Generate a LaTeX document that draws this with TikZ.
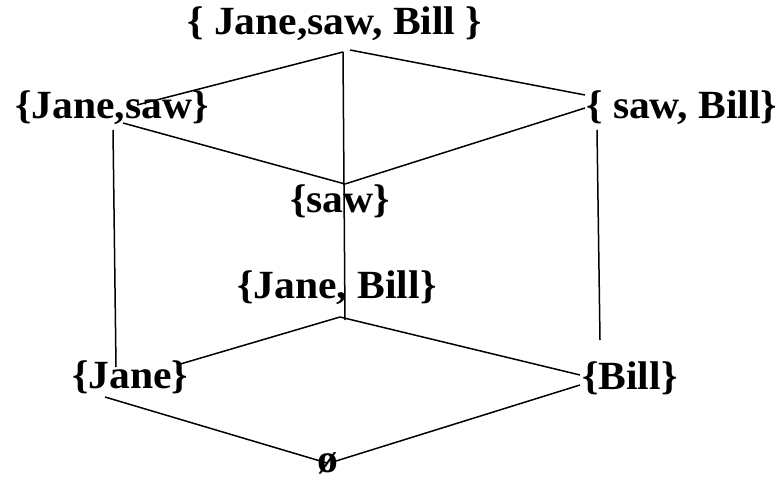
\documentclass[tikz,border=0pt]{standalone}
\usepackage{fontspec}
\setmainfont{Liberation Serif}
\begin{document}
\begin{tikzpicture}[x=1pt,y=-1pt,
  lbl/.style={anchor=base west,inner sep=0pt,font=\fontsize{40}{42}\selectfont\bfseries,xscale=1.04,transform shape},
  edge/.style={line width=1.5pt,black}]
\useasboundingbox (0,0) rectangle (778,481);
% labels
\node[lbl] (top) at (187,35) {\{ Jane,saw, Bill \}};
\node[lbl] (js) at (15,119) {\{Jane,saw\}};
\node[lbl] (sb) at (586,119) {\{ saw, Bill\}};
\node[lbl] (s) at (290,212) {\{saw\}};
\node[lbl] (jb) at (237,298) {\{Jane, Bill\}};
\node[lbl] (j) at (72,388) {\{Jane\}};
\node[lbl] (b) at (582,389) {\{Bill\}};
\node[lbl] (e) at (317,472) {ø};
% junction points
\coordinate (topA) at (343,52);
\coordinate (topR) at (350,50);
\coordinate (jsR) at (137,105);
\coordinate (jsL) at (123,123);
\coordinate (jsB) at (113,130);
\coordinate (sbT) at (585,95);
\coordinate (sbB) at (585,108);
\coordinate (sbV) at (597,130);
\coordinate (sT) at (345,184);
\coordinate (jbB) at (345,320);
\coordinate (jbT) at (340,317);
\coordinate (jT) at (116,367);
\coordinate (jR) at (177,365);
\coordinate (jL) at (105,397);
\coordinate (bT) at (600,340);
\coordinate (bL) at (580,375);
\coordinate (bB) at (580,385);
\coordinate (eL) at (327,463);
\coordinate (eR) at (336,461);
% edges
\draw[edge] (topA) -- (jsR);
\draw[edge] (topR) -- (sbT);
\draw[edge] (topA) -- (jbB);
\draw[edge] (jsL) -- (sT);
\draw[edge] (sbB) -- (sT);
\draw[edge] (jsB) -- (jT);
\draw[edge] (sbV) -- (bT);
\draw[edge] (jbT) -- (jR);
\draw[edge] (jbT) -- (bL);
\draw[edge] (jL) -- (eL);
\draw[edge] (bB) -- (eR);
\end{tikzpicture}
\end{document}
